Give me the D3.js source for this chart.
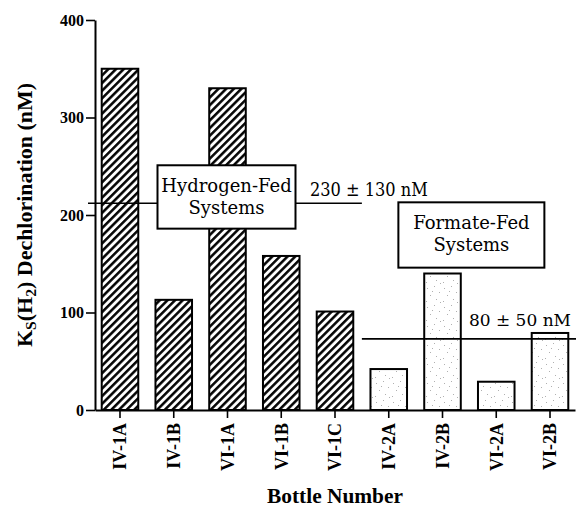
<!DOCTYPE html>
<html>
<head>
<meta charset="utf-8">
<script src="https://cdn.jsdelivr.net/npm/d3@7"></script>
<style>
  body { margin: 0; background: #fff; }
</style>
</head>
<body>
<svg id="chart" width="576" height="510"></svg>
<script>
// datos
var bottles = ['IV-1A', 'IV-1B', 'VI-1A', 'VI-1B', 'VI-1C', 'IV-2A', 'IV-2B', 'VI-2A', 'VI-2B'];
var ksValues = [350, 113, 330, 158, 101, 42, 140, 29, 79];
var feedType = ['H', 'H', 'H', 'H', 'H', 'F', 'F', 'F', 'F'];
var yTicks = [0, 100, 200, 300, 400];

var groupNames = [['Hydrogen-Fed', 'Systems'], ['Formate-Fed', 'Systems']];
var groupMeanPos = [212, 73];
var groupMeanLabels = ['230 \u00b1 130 nM', '80 \u00b1 50 nM'];

var serif = 'Liberation Serif';
var serifText = 'DejaVu Serif';
var svg = d3.select('#chart');

var x = d3.scaleBand()
    .domain(bottles)
    .range([95, 575])
    .paddingInner(0.32)
    .paddingOuter(0.125);

var y = d3.scaleLinear()
    .domain([0, 400])
    .range([410, 20]);

// patrones: rayado para H2, punteado para formiato
var defs = svg.append('defs');

var hatch = defs.append('pattern')
    .attr('id', 'hatch')
    .attr('patternUnits', 'userSpaceOnUse')
    .attr('width', 5.4)
    .attr('height', 10)
    .attr('patternTransform', 'rotate(45)');
hatch.append('rect').attr('width', 5.4).attr('height', 10).attr('fill', '#fff');
hatch.append('line')
    .attr('x1', 1.3).attr('x2', 1.3)
    .attr('y1', 0).attr('y2', 10)
    .attr('stroke', '#000')
    .attr('stroke-width', 2.5);

var dots = defs.append('pattern')
    .attr('id', 'dots')
    .attr('patternUnits', 'userSpaceOnUse')
    .attr('width', 17)
    .attr('height', 19);
dots.append('rect').attr('width', 17).attr('height', 19).attr('fill', '#fff');
[[2, 3], [9, 1], [14, 7], [5, 10], [11, 14], [1, 16], [7, 6], [15, 17]].forEach(function(p) {
    dots.append('rect')
        .attr('x', p[0]).attr('y', p[1])
        .attr('width', 1).attr('height', 1)
        .attr('fill', '#b0b0b0');
});

// barras
svg.append('g')
    .selectAll('rect')
    .data(bottles)
    .enter()
    .append('rect')
    .attr('x', function(d) { return x(d); })
    .attr('y', function(d, i) { return y(ksValues[i]); })
    .attr('width', x.bandwidth())
    .attr('height', function(d, i) { return y(0) - y(ksValues[i]); })
    .attr('fill', function(d, i) { return feedType[i] === 'H' ? 'url(#hatch)' : 'url(#dots)'; })
    .attr('stroke', '#000')
    .attr('stroke-width', 2);

// lineas de media
var splitX = (x('VI-1C') + x('IV-2A') + x.bandwidth()) / 2;
var meanLines = [[88, splitX], [splitX, 576]];

svg.append('g')
    .selectAll('line')
    .data(groupMeanPos)
    .enter()
    .append('line')
    .attr('x1', function(d, i) { return meanLines[i][0]; })
    .attr('x2', function(d, i) { return meanLines[i][1]; })
    .attr('y1', function(d) { return y(d); })
    .attr('y2', function(d) { return y(d); })
    .attr('stroke', '#000')
    .attr('stroke-width', 1.6);

svg.append('text')
    .attr('x', splitX - 52)
    .attr('y', y(groupMeanPos[0]) - 7)
    .attr('font-family', serifText)
    .attr('font-size', 18)
    .attr('textLength', 118)
    .attr('lengthAdjust', 'spacingAndGlyphs')
    .text(groupMeanLabels[0]);

svg.append('text')
    .attr('x', 571)
    .attr('y', y(groupMeanPos[1]) - 13)
    .attr('text-anchor', 'end')
    .attr('font-family', serifText)
    .attr('font-size', 17)
    .text(groupMeanLabels[1]);

// cajas de grupo
var boxes = [
    { cx: x('VI-1A') + x.bandwidth() / 2 - 1, top: 251, bottom: 186, w: 138 },
    { cx: (x('IV-2B') + x('VI-2A') + x.bandwidth()) / 2 + 2, top: 213, bottom: 146, w: 146 }
];

boxes.forEach(function(b, i) {
    var g = svg.append('g');
    g.append('rect')
        .attr('x', b.cx - b.w / 2)
        .attr('y', y(b.top))
        .attr('width', b.w)
        .attr('height', y(b.bottom) - y(b.top))
        .attr('fill', '#fff')
        .attr('stroke', '#000')
        .attr('stroke-width', 2);
    g.selectAll('text')
        .data(groupNames[i])
        .enter()
        .append('text')
        .attr('x', b.cx)
        .attr('y', function(d, j) { return y(b.top) + 27 + j * 22; })
        .attr('text-anchor', 'middle')
        .attr('font-family', serifText)
        .attr('font-size', 18)
        .text(function(d) { return d; });
});

// ejes
var axisY = d3.axisLeft(y)
    .tickValues(yTicks)
    .tickSize(9)
    .tickSizeOuter(0)
    .tickPadding(2);

var gy = svg.append('g')
    .attr('transform', 'translate(95,0)')
    .call(axisY);
gy.select('.domain').attr('stroke-width', 2);
gy.selectAll('.tick line').attr('stroke-width', 1.6);
gy.selectAll('.tick text')
    .attr('font-family', serif)
    .attr('font-size', 16)
    .attr('font-weight', 'bold');

var axisX = d3.axisBottom(x)
    .tickSize(8)
    .tickSizeOuter(0);

var gx = svg.append('g')
    .attr('transform', 'translate(0,' + y(0) + ')')
    .call(axisX);
gx.select('.domain').attr('stroke-width', 2);
gx.selectAll('.tick line').attr('stroke-width', 1.6);
gx.selectAll('.tick text')
    .attr('font-family', serif)
    .attr('font-size', 18)
    .attr('font-weight', 'bold')
    .attr('transform', 'rotate(-90)')
    .attr('text-anchor', 'end')
    .attr('x', -13)
    .attr('y', 0)
    .attr('dy', '0.35em');

// titulos
svg.append('text')
    .attr('x', 335)
    .attr('y', 503)
    .attr('text-anchor', 'middle')
    .attr('font-family', serif)
    .attr('font-size', 20)
    .attr('font-weight', 'bold')
    .attr('textLength', 136)
    .attr('lengthAdjust', 'spacingAndGlyphs')
    .text('Bottle Number');

var yl = svg.append('text')
    .attr('transform', 'translate(32,215) rotate(-90)')
    .attr('text-anchor', 'middle')
    .attr('font-family', serif)
    .attr('font-size', 21)
    .attr('font-weight', 'bold')
    .attr('textLength', 264)
    .attr('lengthAdjust', 'spacingAndGlyphs');
yl.append('tspan').text('K');
yl.append('tspan').attr('font-size', 15).attr('dy', 4).text('S');
yl.append('tspan').attr('dy', -4).text('(H');
yl.append('tspan').attr('font-size', 15).attr('dy', 4).text('2');
yl.append('tspan').attr('dy', -4).text(') Dechlorination (nM)');
</script>
</body>
</html>
